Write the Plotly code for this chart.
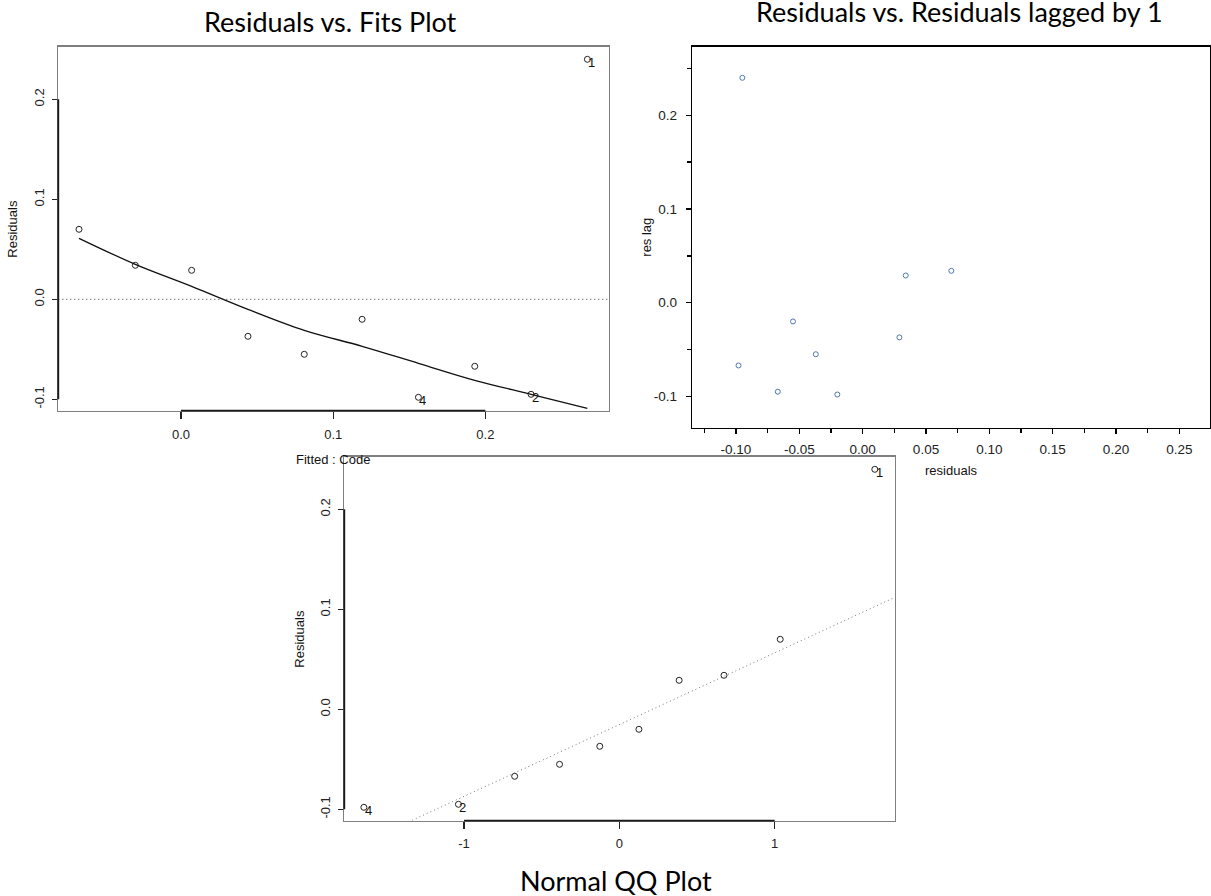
import plotly.graph_objects as go

# ---------------- data ----------------
obs_labels = ["1", "2", "3", "4", "5", "6", "7", "8", "9", "10"]
fitted = [0.267, 0.230, 0.193, 0.156, 0.119, 0.081, 0.044, 0.007, -0.030, -0.067]
residuals = [0.240, -0.095, -0.067, -0.098, -0.020, -0.055, -0.037, 0.029, 0.034, 0.070]
labeled_obs = ["1", "2", "4"]

# smooth (lowess) curve through residuals vs fits
smooth_x = [-0.067, -0.030, 0.007, 0.044, 0.081, 0.119, 0.156, 0.193, 0.230, 0.267]
smooth_y = [0.061, 0.035, 0.013, -0.010, -0.031, -0.047, -0.064, -0.081, -0.095, -0.109]

# normal quantiles
qq_theoretical = [-1.645, -1.036, -0.674, -0.385, -0.126, 0.126, 0.385, 0.674, 1.036, 1.645]
qqline_x = [-1.334, 1.775]
qqline_y = [-0.111, 0.112]

# tick labels
fits_xticks = [0.0, 0.1, 0.2]
fits_xtext = ["0.0", "0.1", "0.2"]
res_ticks = [-0.1, 0.0, 0.1, 0.2]
res_text = ["-0.1", "0.0", "0.1", "0.2"]
lag_xticks = [-0.10, -0.05, 0.00, 0.05, 0.10, 0.15, 0.20, 0.25]
lag_xtext = ["-0.10", "-0.05", "0.00", "0.05", "0.10", "0.15", "0.20", "0.25"]
qq_xticks = [-1, 0, 1]
qq_xtext = ["-1", "0", "1"]

# derived series
lag_x = residuals[1:]
lag_y = residuals[:-1]
order = sorted(range(len(residuals)), key=lambda i: residuals[i])
qq_y = [residuals[i] for i in order]
qq_lab = [obs_labels[i] for i in order]

W, H = 1211, 896
def px(x):
    return x / W
def py(y):
    return 1 - y / H

TICK_FONT = dict(family="Liberation Sans, Arial, sans-serif", size=13, color="#222")
TITLE_FONT = dict(family="Lato, sans-serif", size=27, color="#000")
DOTS = "1px,3px"

fig = go.Figure()

# ---- top-left: residuals vs fits
fig.add_trace(go.Scatter(x=fitted, y=residuals, mode="markers", xaxis="x", yaxis="y",
                         marker=dict(symbol="circle-open", size=6, color="#222", line=dict(width=1))))
fig.add_trace(go.Scatter(x=smooth_x, y=smooth_y, mode="lines", xaxis="x", yaxis="y",
                         line=dict(color="#111", width=1.3, shape="spline")))

# ---- top-right: lag plot
fig.add_trace(go.Scatter(x=lag_x, y=lag_y, mode="markers", xaxis="x2", yaxis="y2",
                         marker=dict(symbol="circle-open", size=5, color="#4f77b3", line=dict(width=1))))

# ---- bottom: normal QQ
fig.add_trace(go.Scatter(x=qqline_x, y=qqline_y, mode="lines", xaxis="x3", yaxis="y3",
                         line=dict(color="#777", width=1, dash=DOTS)))
fig.add_trace(go.Scatter(x=qq_theoretical, y=qq_y, mode="markers", xaxis="x3", yaxis="y3",
                         marker=dict(symbol="circle-open", size=6, color="#222", line=dict(width=1))))

common_axis = dict(showgrid=False, zeroline=False, showline=True, mirror=True,
                   linecolor="#7f7f7f", linewidth=1.3, ticks="outside", tickcolor="#222",
                   tickwidth=1.3, tickfont=TICK_FONT, fixedrange=True)

fig.update_layout(
    width=W, height=H, autosize=False,
    margin=dict(l=0, r=0, t=0, b=0),
    paper_bgcolor="white", plot_bgcolor="white", showlegend=False,
    xaxis=dict(common_axis, domain=[px(58.3), px(609)], range=[-0.0806, 0.2812], anchor="y",
               tickvals=fits_xticks, ticktext=fits_xtext, ticklen=7, ticklabelstandoff=4),
    yaxis=dict(common_axis, domain=[py(410.7), py(46.7)], range=[-0.1114, 0.2526], anchor="x",
               tickvals=res_ticks, ticktext=res_text, ticklen=5, tickangle=-90, ticklabelstandoff=3),
    xaxis2=dict(common_axis, domain=[px(692.3), px(1210)], range=[-0.1345, 0.2742], anchor="y2",
                tickvals=lag_xticks, ticktext=lag_xtext, ticklen=5, linecolor="#000", linewidth=1.6,
                tickcolor="#000", tickfont=dict(TICK_FONT, size=13.5), ticklabelstandoff=3,
                minor=dict(ticks="outside", ticklen=4, tickcolor="#000", tick0=0, dtick=0.025)),
    yaxis2=dict(common_axis, domain=[py(427.7), py(46.7)], range=[-0.1334, 0.2732], anchor="x2",
                tickvals=res_ticks, ticktext=res_text, ticklen=5, linecolor="#000", linewidth=1.6,
                tickcolor="#000", tickfont=dict(TICK_FONT, size=13.5), ticklabelstandoff=6,
                minor=dict(ticks="outside", ticklen=4, tickcolor="#000", tick0=0, dtick=0.05)),
    xaxis3=dict(common_axis, domain=[px(344.3), px(895)], range=[-1.771, 1.775], anchor="y3",
                tickvals=qq_xticks, ticktext=qq_xtext, ticklen=7, ticklabelstandoff=3),
    yaxis3=dict(common_axis, domain=[py(820.7), py(456.7)], range=[-0.1114, 0.2526], anchor="x3",
                tickvals=res_ticks, ticktext=res_text, ticklen=5, tickangle=-90, ticklabelstandoff=3),
)

shapes = []
# zero reference line on residuals vs fits
shapes.append(dict(type="line", xref="x domain", yref="y", x0=0, x1=1, y0=0, y1=0,
                   line=dict(color="#333", width=1, dash=DOTS)))
# dark axis spans (R style: from first to last tick)
for xa, ya, xt in (("x", "y", fits_xticks), ("x3", "y3", qq_xticks)):
    shapes.append(dict(type="line", xref=xa, yref=ya + " domain", x0=min(xt), x1=max(xt), y0=0, y1=0,
                       line=dict(color="#1a1a1a", width=1.8)))
    shapes.append(dict(type="line", xref=xa + " domain", yref=ya, x0=0, x1=0, y0=min(res_ticks), y1=max(res_ticks),
                       line=dict(color="#1a1a1a", width=1.8)))
fig.update_layout(shapes=shapes)

ann = []
ann.append(dict(text="Residuals vs. Fits Plot", x=px(330), y=py(21), xref="paper", yref="paper",
                showarrow=False, font=TITLE_FONT, xanchor="center", yanchor="middle"))
ann.append(dict(text="Residuals vs. Residuals lagged by 1", x=px(959), y=py(12), xref="paper", yref="paper",
                showarrow=False, font=TITLE_FONT, xanchor="center", yanchor="middle"))
ann.append(dict(text="Normal QQ Plot", x=px(615.5), y=py(880), xref="paper", yref="paper",
                showarrow=False, font=TITLE_FONT, xanchor="center", yanchor="middle"))
# axis titles
for txt, x, y, ang in (("Residuals", 13, 228.7, -90), ("Fitted : Code", 333, 460, 0),
                       ("res lag", 645.7, 237, -90), ("residuals", 951, 470.7, 0),
                       ("Residuals", 300, 638.7, -90)):
    ann.append(dict(text=txt, x=px(x), y=py(y), xref="paper", yref="paper", showarrow=False,
                    textangle=ang, font=dict(TICK_FONT, color="#111"), xanchor="center", yanchor="middle"))
# point labels
for f, r, lab in zip(fitted, residuals, obs_labels):
    if lab in labeled_obs:
        ann.append(dict(text=lab, x=f, y=r, xref="x", yref="y", showarrow=False, xanchor="left",
                        yanchor="middle", xshift=-1, yshift=-3, font=dict(TICK_FONT, color="#111")))
for q, r, lab in zip(qq_theoretical, qq_y, qq_lab):
    if lab in labeled_obs:
        ann.append(dict(text=lab, x=q, y=r, xref="x3", yref="y3", showarrow=False, xanchor="left",
                        yanchor="middle", xshift=-1, yshift=-3, font=dict(TICK_FONT, color="#111")))
fig.update_layout(annotations=ann)

fig.write_html("out.html",
               config={"displayModeBar": False, "staticPlot": True},
               post_script="document.body.style.margin='0';document.body.style.overflow='hidden';")
